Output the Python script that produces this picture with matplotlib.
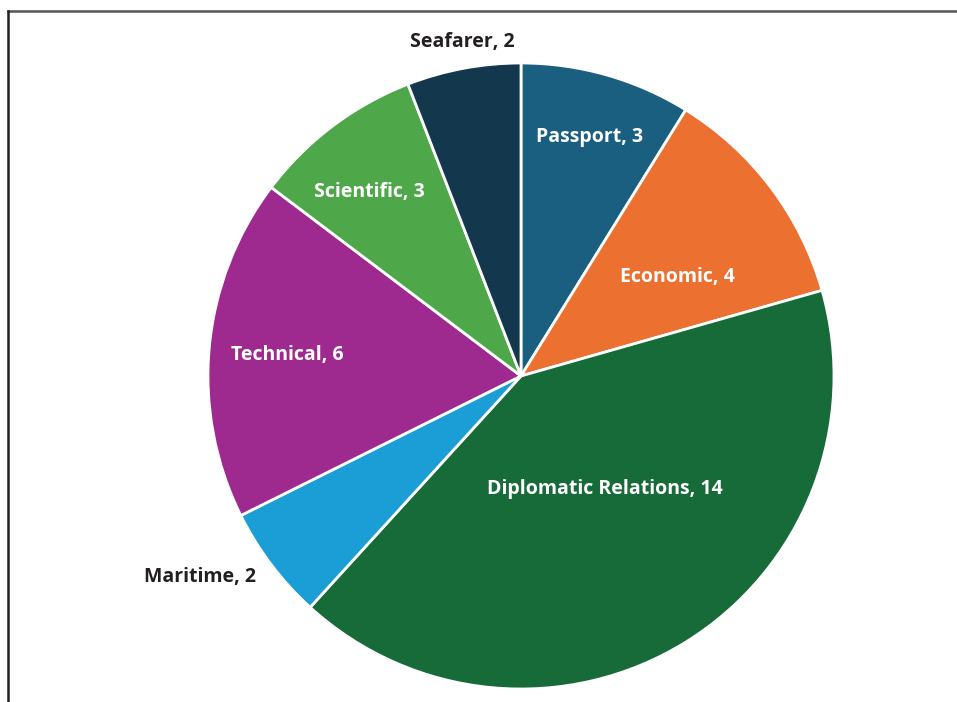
import numpy as np
import matplotlib
matplotlib.use("Agg")
import matplotlib.pyplot as plt
from matplotlib.lines import Line2D

categories = ["Passport", "Economic", "Diplomatic Relations", "Maritime",
              "Technical", "Scientific", "Seafarer"]
values = [3, 4, 14, 2, 6, 3, 2]
colors = ["#1a5f80", "#ec7030", "#176b38", "#1b9dd6", "#9e2a8f", "#4ea84a", "#13384d"]
label_radius = [0.795, 0.59, 0.45, 1.21, 0.75, 0.76, 1.083]
label_angle_shift = [0, -4.7, 4.6, -5.0, 0.2, 2.4, -0.7]
label_colors = ["white", "white", "white", "#231f20", "white", "white", "#231f20"]

W, H = 957, 702
fig = plt.figure(figsize=(W / 100, H / 100), dpi=100)
ax = fig.add_axes([0, 0, 1, 1])
cx, cy, R = 521, 376, 313
ax.axis("off")

wedges, _ = ax.pie(values, colors=colors, startangle=90, counterclock=False,
                   radius=1.0, wedgeprops=dict(edgecolor="white", linewidth=2))
ax.set_xlim(-cx / R, (W - cx) / R)
ax.set_ylim(-(H - cy) / R, cy / R)
ax.set_aspect("auto")

for w, cat, v, r, sh, tc in zip(wedges, categories, values, label_radius,
                                label_angle_shift, label_colors):
    ang = np.deg2rad((w.theta1 + w.theta2) / 2 + sh)
    ax.text(r * np.cos(ang), r * np.sin(ang), f"{cat}, {v}", ha="center", va="center",
            color=tc, fontsize=14, fontweight="bold", family=["Open Sans", "DejaVu Sans"])

fig.add_artist(Line2D([8 / W, 1], [1 - 11 / H, 1 - 11 / H], color="#555555", linewidth=1.8))
fig.add_artist(Line2D([8 / W, 8 / W], [0, 1 - 11 / H], color="#231f20", linewidth=1.8))

fig.savefig("out.png", dpi=100, facecolor="white")
